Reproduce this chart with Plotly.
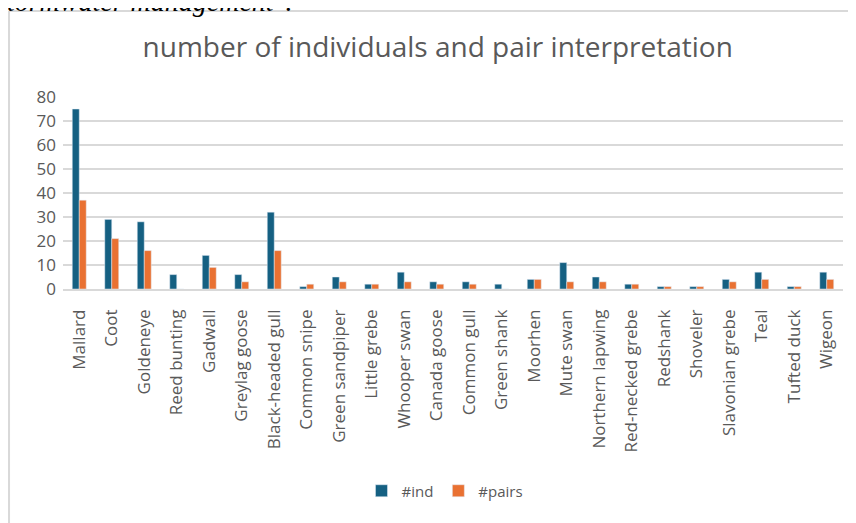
import plotly.graph_objects as go

species = ['Mallard', 'Coot', 'Goldeneye', 'Reed bunting', 'Gadwall', 'Greylag goose',
           'Black-headed gull', 'Common snipe', 'Green sandpiper', 'Little grebe',
           'Whooper swan', 'Canada goose', 'Common gull', 'Green shank', 'Moorhen',
           'Mute swan', 'Northern lapwing', 'Red-necked grebe', 'Redshank', 'Shoveler',
           'Slavonian grebe', 'Teal', 'Tufted duck', 'Wigeon']
n_ind = [75, 29, 28, 6, 14, 6, 32, 1, 5, 2, 7, 3, 3, 2, 4, 11, 5, 2, 1, 1, 4, 7, 1, 7]
n_pairs = [37, 21, 16, 0, 9, 3, 16, 2, 3, 2, 3, 2, 2, 0, 4, 3, 3, 2, 1, 1, 3, 4, 1, 4]

grey = '#595959'
font = 'Open Sans'

fig = go.Figure()
fig.add_trace(go.Bar(x=species, y=n_ind, name='#ind', marker_color='#156082'))
fig.add_trace(go.Bar(x=species, y=n_pairs, name='#pairs', marker_color='#E97132'))

# chart frame (the picture is cut from a document)
fig.add_shape(type='line', xref='paper', yref='paper', x0=-0.0692, x1=-0.0692, y0=1.448, y1=-1.4,
              line=dict(color='#d9d9d9', width=2))
fig.add_shape(type='line', xref='paper', yref='paper', x0=-0.0692, x1=1.05, y0=1.448, y1=1.448,
              line=dict(color='#d9d9d9', width=2))

# cropped caption line from the surrounding document
fig.add_annotation(text='<i>stormwater management".</i>', xref='paper', yref='paper',
                   x=-0.088, y=1.406, xanchor='left', yanchor='bottom', showarrow=False,
                   font=dict(family='Liberation Serif', size=28, color='black'))

fig.update_layout(
    width=856, height=523,
    margin=dict(l=55, r=21, t=89, b=242),
    paper_bgcolor='white', plot_bgcolor='white',
    font=dict(family=font, color=grey),
    title=dict(text='number of individuals and pair interpretation',
               x=0.502, xref='container', xanchor='center',
               y=0.925, yref='container', yanchor='middle',
               font=dict(size=28, color=grey, family=font)),
    barmode='group', bargap=0.57, bargroupgap=0,
    xaxis=dict(tickangle=-90, tickfont=dict(size=17, color=grey), showgrid=False,
               showline=True, linecolor='#d9d9d9', linewidth=1.5, ticks='',
               automargin=False, ticklabelstandoff=12),
    yaxis=dict(range=[0, 80], dtick=10, tickfont=dict(size=17, color=grey),
               showgrid=True, gridcolor='#d9d9d9', gridwidth=1.5,
               zeroline=False, ticks='', ticklabelstandoff=6, automargin=False),
    legend=dict(orientation='h', x=0.5105, xref='container', xanchor='center',
                y=0.0765, yref='container', yanchor='middle',
                font=dict(size=15, color=grey), traceorder='normal'),
)

fig.write_html("out.html")
